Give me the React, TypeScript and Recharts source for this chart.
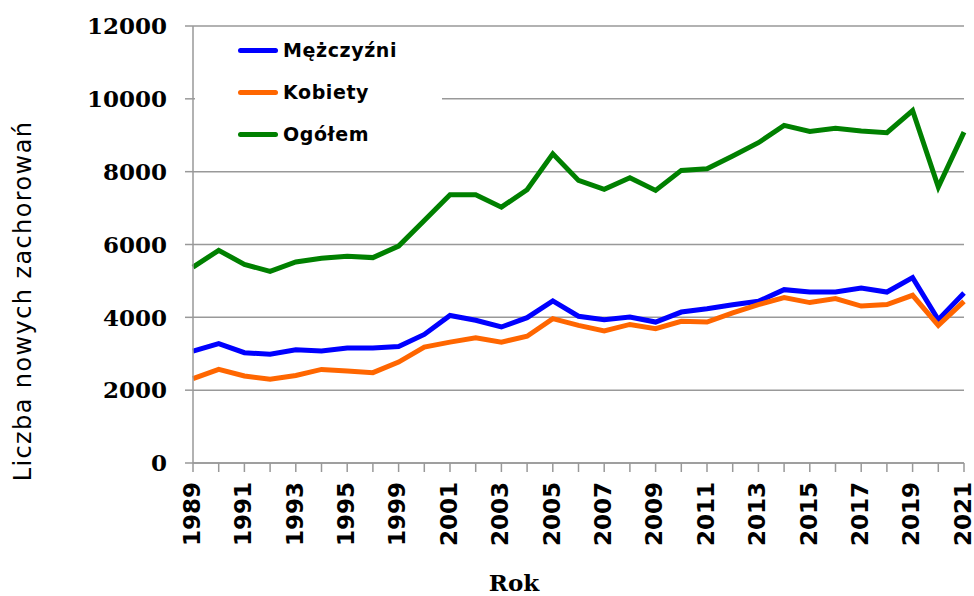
import React from "react";
import { LineChart, Line, XAxis, YAxis, CartesianGrid, Legend } from "recharts";

// years on the category axis (the source skips some late-90s years)
const years = [
  "1989", "1990", "1991", "1992", "1993", "1994", "1995", "1997", "1999", "2000",
  "2001", "2002", "2003", "2004", "2005", "2006", "2007", "2008", "2009", "2010",
  "2011", "2012", "2013", "2014", "2015", "2016", "2017", "2018", "2019", "2020",
  "2021",
];

const men = [
  3070, 3280, 3030, 2985, 3110, 3075, 3155, 3160, 3200, 3530,
  4050, 3920, 3735, 3990, 4450, 4030, 3935, 4010, 3870, 4145,
  4235, 4345, 4440, 4760, 4695, 4695, 4805, 4695, 5090, 3935,
  4670,
];

const women = [
  2315, 2570, 2390, 2300, 2405, 2570, 2525, 2480, 2770, 3185,
  3320, 3440, 3320, 3480, 3965, 3780, 3625, 3805, 3690, 3890,
  3870, 4120, 4350, 4540, 4405, 4515, 4310, 4350, 4605, 3780,
  4440,
];

const total = [
  5380, 5840, 5455, 5260, 5520, 5625, 5680, 5640, 5955, 6660,
  7365, 7365, 7025, 7505, 8490, 7760, 7515, 7835, 7485, 8035,
  8080, 8430, 8795, 9270, 9105, 9195, 9115, 9070, 9680, 7575,
  9085,
];

const seriesNames = ["Mężczyźni", "Kobiety", "Ogółem"];
const yTicks = [0, 2000, 4000, 6000, 8000, 10000, 12000];

const data = years.map((year, i) => ({
  year,
  men: men[i],
  women: women[i],
  total: total[i],
}));

const GRAY = "#999999";

const XTick = (props: any) => {
  const { x, y, index, payload } = props;
  if (index % 2 !== 0) return null;
  return (
    <text
      x={x}
      y={y}
      transform={`rotate(-90, ${x}, ${y})`}
      textAnchor="end"
      dy="0.3em"
      fontFamily="DejaVu Sans"
      fontWeight="bold"
      fontSize={23}
      fill="#000"
    >
      {payload.value}
    </text>
  );
};

const YTick = (props: any) => {
  const { x, y, payload } = props;
  return (
    <text
      x={x}
      y={y}
      textAnchor="end"
      dy="0.36em"
      fontFamily="DejaVu Serif"
      fontWeight="bold"
      fontSize={23}
      fill="#000"
    >
      {payload.value}
    </text>
  );
};

const LegendBox = (props: any) => {
  const items = [...(props.payload || [])].sort(
    (a: any, b: any) => seriesNames.indexOf(a.value) - seriesNames.indexOf(b.value)
  );
  return (
    <div
      style={{
        background: "#fff",
        width: 247,
        height: 140,
        position: "relative",
      }}
    >
      {items.map((entry: any, i: number) => (
        <div
          key={entry.value}
          style={{
            position: "absolute",
            left: 43,
            top: 21 + i * 42 - 12,
            height: 24,
            display: "flex",
            alignItems: "center",
          }}
        >
          <span
            style={{
              display: "inline-block",
              width: 40,
              height: 5,
              borderRadius: 3,
              background: entry.color,
              marginRight: 5,
            }}
          />
          <span
            style={{
              fontFamily: "DejaVu Sans",
              fontWeight: "bold",
              fontSize: 19,
              letterSpacing: 0.6,
              color: "#000",
            }}
          >
            {entry.value}
          </span>
        </div>
      ))}
    </div>
  );
};

export default function App() {
  return (
    <div style={{ position: "absolute", left: 0, top: 0 }}>
      <LineChart
        width={974}
        height={596}
        data={data}
        margin={{ top: 26, right: 10, left: 0, bottom: 0 }}
      >
        <CartesianGrid vertical={false} stroke={GRAY} strokeWidth={1.5} />
        <XAxis
          dataKey="year"
          interval={0}
          height={133}
          tickSize={9}
          tickMargin={10}
          stroke={GRAY}
          strokeWidth={1.5}
          tick={<XTick />}
          label={{
            content: () => (
              <text
                x={514}
                y={591}
                textAnchor="middle"
                fontFamily="DejaVu Serif"
                fontWeight="bold"
                fontSize={23}
                fill="#000"
              >
                Rok
              </text>
            ),
          }}
        />
        <YAxis
          width={193}
          domain={[0, 12000]}
          ticks={yTicks}
          tickSize={8}
          tickMargin={18}
          stroke={GRAY}
          strokeWidth={1.5}
          tick={<YTick />}
          label={{
            content: () => (
              <text
                x={22}
                y={301}
                transform="rotate(-90, 22, 301)"
                textAnchor="middle"
                dy="0.36em"
                fontFamily="DejaVu Sans"
                fontSize={24}
                letterSpacing={1.4}
                fill="#000"
              >
                Liczba nowych zachorowań
              </text>
            ),
          }}
        />
        <Legend
          layout="vertical"
          align="center"
          verticalAlign="middle"
          content={<LegendBox />}
          wrapperStyle={{ position: "absolute", left: 195, top: 29, width: 247 }}
        />
        <Line
          type="linear"
          dataKey="men"
          name={seriesNames[0]}
          stroke="#0000ff"
          strokeWidth={5}
          dot={false}
          isAnimationActive={false}
        />
        <Line
          type="linear"
          dataKey="women"
          name={seriesNames[1]}
          stroke="#ff6600"
          strokeWidth={5}
          dot={false}
          isAnimationActive={false}
        />
        <Line
          type="linear"
          dataKey="total"
          name={seriesNames[2]}
          stroke="#008000"
          strokeWidth={5}
          dot={false}
          isAnimationActive={false}
        />
      </LineChart>
    </div>
  );
}
